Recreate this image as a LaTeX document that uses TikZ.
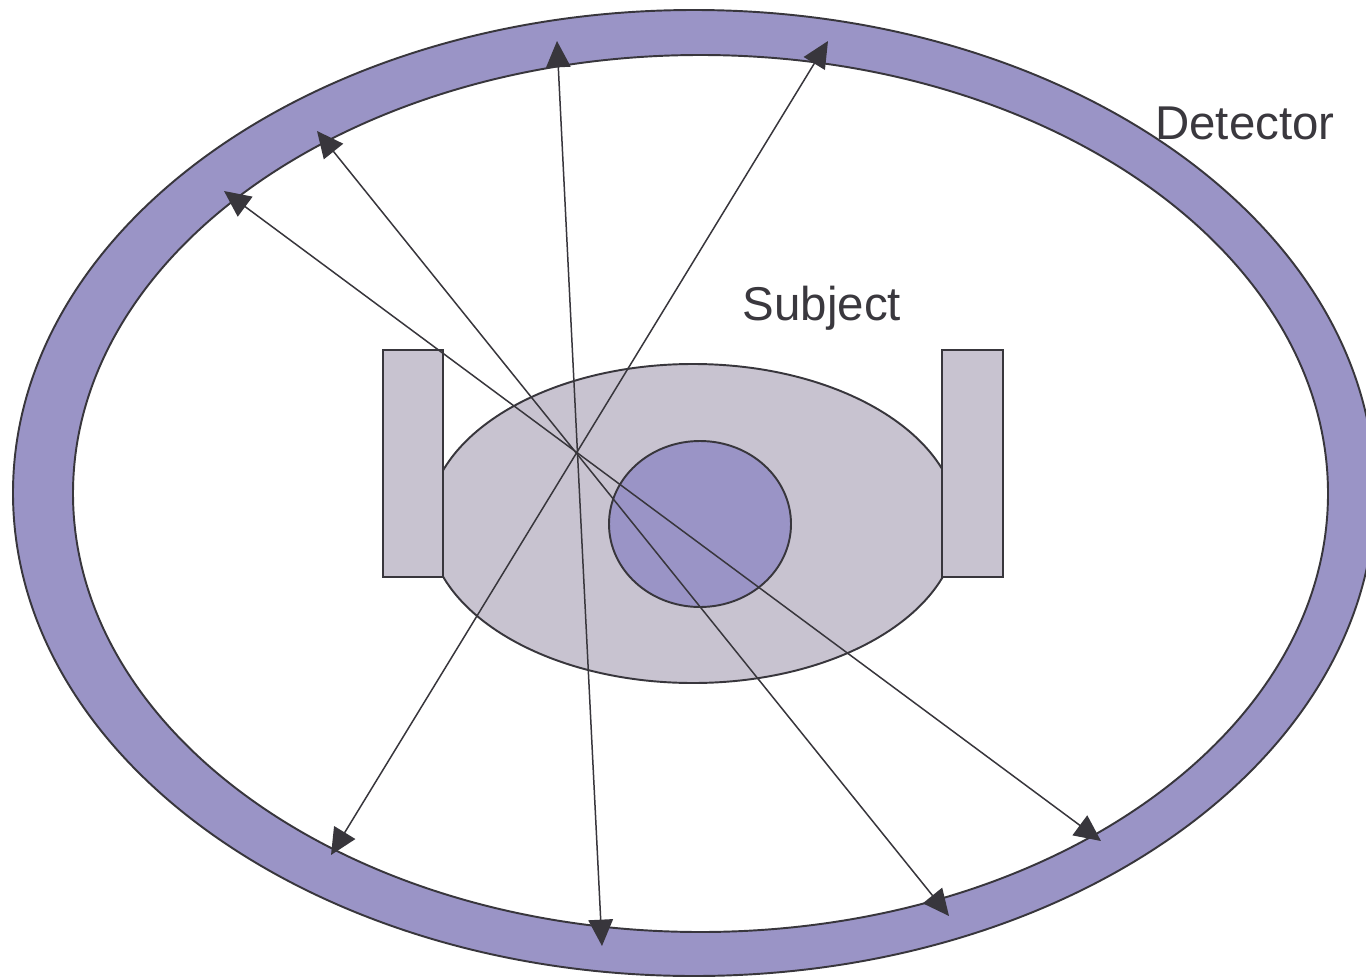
\documentclass[tikz,border=0pt]{standalone}
\usepackage{fontspec}
\setmainfont{Liberation Sans}
\usepackage{xcolor}
\definecolor{ringfill}{HTML}{9A94C6}
\definecolor{bodyfill}{HTML}{C8C3D0}
\definecolor{edge}{HTML}{38363C}
\definecolor{ink}{HTML}{3A383E}
\usetikzlibrary{arrows.meta}

\begin{document}
\begin{tikzpicture}[
  x=0.02cm, y=-0.02cm,
  outl/.style={draw=edge, line width=1.1pt},
  ray/.style={{Triangle[length=15pt,width=14pt]}-{Triangle[length=15pt,width=14pt]},
              draw=edge, fill=edge, line width=0.85pt},
  lbl/.style={text=ink, font=\fontsize{27}{32}\selectfont, anchor=base, inner sep=0pt}
]
  \useasboundingbox (0,0) rectangle (1366,977);
  \fill[white] (0,0) rectangle (1366,977);

  % detector ring
  \fill[ringfill, even odd rule] (694,493) ellipse[x radius=681, y radius=483]
                                 (700.5,493.5) ellipse[x radius=627.5, y radius=438.5];
  \draw[outl] (694,493) ellipse[x radius=681, y radius=483];
  \draw[outl] (700.5,493.5) ellipse[x radius=627.5, y radius=438.5];

  % subject
  \draw[outl, fill=bodyfill] (693,523.5) ellipse[x radius=265, y radius=159.5];
  \draw[outl, fill=bodyfill] (383,350) rectangle (443,577);
  \draw[outl, fill=bodyfill] (942,350) rectangle (1003,577);
  \draw[outl, fill=ringfill] (700,524) ellipse[x radius=91, y radius=83];

  \node[lbl] (det) at (1245,139) {Detector};
  \node[lbl] (subj) at (822,320) {Subject};

  % lines of response
  \coordinate (t1) at (828,41);   \coordinate (b1) at (331,855);
  \coordinate (t2) at (557,41);   \coordinate (b2) at (602,946);
  \coordinate (t3) at (317,131);  \coordinate (b3) at (949,916);
  \coordinate (t4) at (224,191);  \coordinate (b4) at (1101,841);
  \draw[ray] (t1) -- (b1);
  \draw[ray] (t2) -- (b2);
  \draw[ray] (t3) -- (b3);
  \draw[ray] (t4) -- (b4);
\end{tikzpicture}
\end{document}
